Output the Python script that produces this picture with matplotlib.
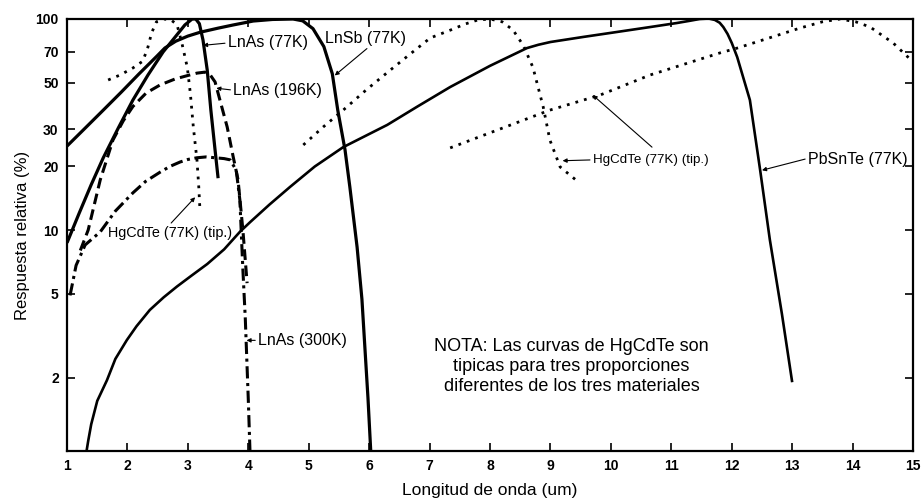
import matplotlib
matplotlib.use("Agg")
import matplotlib.pyplot as plt
from matplotlib import font_manager as fm
from matplotlib.ticker import FixedLocator, NullLocator, FixedFormatter

names = {f.name for f in fm.fontManager.ttflist}
BASE = "Liberation Sans" if "Liberation Sans" in names else "DejaVu Sans"
plt.rcParams["font.family"] = [BASE, "DejaVu Sans"]

# ---------------- data ----------------
ln_sb_x = [1.0, 1.3, 1.6, 1.9, 2.19, 2.49, 2.62, 2.8, 3.0, 3.2, 3.5, 3.75, 4.08, 4.4, 4.74,
           4.90, 5.07, 5.25, 5.39, 5.48, 5.60, 5.68, 5.80, 5.88, 5.98, 6.03]
ln_sb_y = [25, 30.4, 37, 45.1, 54.9, 66.8, 72.9, 78.5, 83, 86.5, 90.5, 93.7, 97.8, 99.5, 100,
           98, 90, 74, 55, 37, 24, 16, 8.3, 4.7, 1.6, 0.85]

ln_as77_x = [1.0, 1.2, 1.4, 1.6, 1.85, 2.09, 2.34, 2.59, 2.79, 2.95, 3.07, 3.13, 3.19, 3.25, 3.32, 3.38, 3.45, 3.50]
ln_as77_y = [8.7, 12.0, 16.4, 22.0, 30.5, 41.3, 54.3, 69.8, 82.2, 93.7, 100, 100, 95, 79.5, 57.3, 37.0, 23.9, 17.6]

ln_as196_x = [1.22, 1.35, 1.55, 1.76, 1.93, 2.09, 2.31, 2.54, 2.79, 3.0, 3.15, 3.28, 3.37, 3.45, 3.53, 3.65, 3.75, 3.83, 3.91, 3.98]
ln_as196_y = [8.0, 10.0, 17.3, 26.7, 32.9, 38.5, 44.6, 48.7, 52.0, 54.0, 55.4, 56.0, 54.3, 50.3, 41.3, 30.8, 22.2, 17.3, 10.0, 5.6]

ln_as300_x = [1.05, 1.15, 1.30, 1.55, 1.8, 2.09, 2.3, 2.54, 2.7, 2.87, 3.0, 3.15, 3.3, 3.45, 3.60, 3.70, 3.80, 3.86, 3.91, 3.95, 4.00, 4.03]
ln_as300_y = [4.9, 6.8, 8.5, 9.8, 12.3, 15.0, 17.0, 18.8, 20.0, 21.0, 21.6, 22.0, 22.2, 22.0, 21.8, 21.5, 19.2, 13.9, 6.5, 3.8, 1.56, 0.85]

hg1_x = [1.68, 1.88, 2.09, 2.25, 2.33, 2.40, 2.48, 2.60, 2.72, 2.82, 2.90, 2.99, 3.04, 3.09, 3.15, 3.18, 3.20]
hg1_y = [51.4, 54.3, 58.6, 63, 72, 86, 97, 100, 99, 94, 77, 59, 44.6, 30.8, 21.5, 16, 12.4]

hg2_x = [4.91, 5.24, 5.57, 5.95, 6.35, 6.68, 7.01, 7.34, 7.59, 7.8, 8.0, 8.2, 8.38, 8.55, 8.71, 8.88, 8.99, 9.16, 9.46]
hg2_y = [25.3, 30.8, 37, 46.1, 57.3, 68.3, 81.3, 88.5, 94.7, 99, 100, 97, 88.7, 75, 59, 38.3, 26.7, 19.9, 16.9]

hg3_x = [7.34, 8.99, 9.82, 10.65, 11.8, 12.09, 12.6, 13.13, 13.5, 13.79, 14.05, 14.29, 14.67, 15.0]
hg3_y = [24.5, 37, 43.6, 54.3, 69, 72.8, 81, 90.6, 97, 100, 97, 91.6, 77, 62.6]

pbsnte_x = [1.31, 1.35, 1.40, 1.5, 1.66, 1.8, 1.99, 2.15, 2.37, 2.6, 2.82, 3.05, 3.32, 3.6, 3.86, 4.03, 4.35, 4.69,
            5.1, 5.57, 6.30, 6.8, 7.34, 8.0, 8.61, 8.8, 9.0, 9.54, 10.1, 10.65, 11.09, 11.3, 11.47, 11.62, 11.72,
            11.80, 11.86, 11.93, 12.0, 12.09, 12.30, 12.47, 12.63, 12.83, 13.0]
pbsnte_y = [0.85, 1.0, 1.2, 1.55, 1.94, 2.45, 3.01, 3.5, 4.18, 4.8, 5.4, 6.05, 6.9, 8.1, 9.8, 10.9, 13.2, 16.0,
            20.0, 24.7, 31.5, 38.5, 47.6, 60.0, 72.8, 75.5, 77.8, 82.2, 86.8, 91.6, 95.7, 98.0, 100, 100.5, 99,
            96, 91.6, 85, 77, 66, 41.3, 19.2, 9.0, 4.0, 1.9]

x_ticks = list(range(1, 16))
y_ticks = [2, 5, 10, 20, 30, 50, 70, 100]
y_ticklabels = ["2", "5", "10", "20", "30", "50", "70", "100"]

# ---------------- figure ----------------
fig = plt.figure(figsize=(9.22, 5.0), dpi=100)
ax = fig.add_axes([0.0727, 0.098, 0.9176, 0.864])
ax.set_yscale("log")
ax.set_xlim(1, 15)
ax.set_ylim(0.897, 100)

k = dict(color="black", solid_capstyle="butt", solid_joinstyle="round")
ax.plot(ln_sb_x, ln_sb_y, lw=2.3, **k)
ax.plot(ln_as77_x, ln_as77_y, lw=2.3, **k)
ax.plot(ln_as196_x, ln_as196_y, lw=2.2, linestyle=(0, (3.5, 1.8)), color="black")
ax.plot(ln_as300_x, ln_as300_y, lw=2.2, linestyle=(0, (4, 1.5, 1, 1.5)), color="black")
for hx, hy in ((hg1_x, hg1_y), (hg2_x, hg2_y), (hg3_x, hg3_y)):
    ax.plot(hx, hy, lw=2.0, linestyle=(0, (1, 2.2)), color="black")
ax.plot(pbsnte_x, pbsnte_y, lw=1.9, **k)

# axes styling
ax.xaxis.set_major_locator(FixedLocator(x_ticks))
ax.yaxis.set_major_locator(FixedLocator(y_ticks))
ax.yaxis.set_major_formatter(FixedFormatter(y_ticklabels))
ax.yaxis.set_minor_locator(NullLocator())
ax.xaxis.set_minor_locator(NullLocator())
ax.tick_params(direction="in", length=6, width=1.2, top=True, right=True,
               labelsize=10, pad=6)
for lab in ax.get_xticklabels() + ax.get_yticklabels():
    lab.set_fontweight("bold")
for s in ax.spines.values():
    s.set_linewidth(1.6)

ax.set_xlabel("Longitud de onda (um)", fontsize=12.5, labelpad=7)
ax.set_ylabel("Respuesta relativa (%)", fontsize=12, labelpad=4)

# annotations
ap = dict(arrowstyle="-|>", lw=0.8, color="black", mutation_scale=6, shrinkA=0, shrinkB=0)
tf = dict(fontsize=11.5, va="center", ha="left")
ax.annotate("LnAs (77K)", xy=(3.25, 75), xytext=(3.66, 77), arrowprops=dict(ap, relpos=(0, 0.5)), **tf)
ax.annotate("LnAs (196K)", xy=(3.47, 47), xytext=(3.75, 46), arrowprops=dict(ap, relpos=(0, 0.5)), **tf)
ax.annotate("LnSb (77K)", xy=(5.43, 54), xytext=(5.27, 81), arrowprops=dict(ap, relpos=(0.58, 0.1)), **tf)
ax.annotate("LnAs (300K)", xy=(3.97, 3.0), xytext=(4.16, 3.0), arrowprops=dict(ap, relpos=(0, 0.5)), **tf)
ax.annotate("HgCdTe (77K) (tip.)", xy=(3.12, 14.3), xytext=(2.70, 9.7),
            arrowprops=dict(ap, relpos=(0.48, 0.9)), fontsize=10.4, va="center", ha="center")
ax.annotate("HgCdTe (77K) (tip.)", xy=(9.2, 21.3), xytext=(9.70, 21.5),
            arrowprops=dict(ap, relpos=(0, 0.5)), fontsize=9.6, va="center", ha="left")
ax.annotate("", xy=(9.70, 43.6), xytext=(10.68, 24.7), arrowprops=dict(ap))
ax.annotate("PbSnTe (77K)", xy=(12.5, 19.2), xytext=(13.26, 21.5),
            arrowprops=dict(ap, relpos=(0, 0.6)), fontsize=11.5, va="center", ha="left")

ax.text(9.35, 2.25, "NOTA: Las curvas de HgCdTe son\ntipicas para tres proporciones\ndiferentes de los tres materiales",
        ha="center", va="center", fontsize=13, linespacing=1.25)

fig.savefig("out.png", dpi=100)
